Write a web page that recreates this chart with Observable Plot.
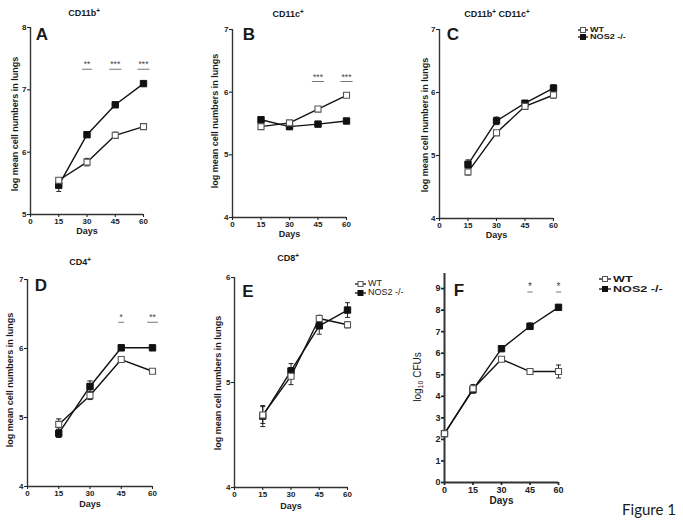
<!DOCTYPE html>
<html><head><meta charset="utf-8">
<script src="https://cdn.jsdelivr.net/npm/d3@7"></script>
<script src="https://cdn.jsdelivr.net/npm/@observablehq/plot@0.6"></script>
<style>
body{margin:0;background:#fff;}
#fig{position:relative;width:683px;height:525px;overflow:hidden;font-family:"Liberation Sans",Arial,sans-serif;color:#1a1a1a;}
#fig svg{position:absolute;left:0;top:0;}
.t{position:absolute;font-weight:bold;white-space:nowrap;transform:translate(-50%,-50%);line-height:1;}
.t sup{font-size:70%;vertical-align:0.45em;line-height:0;}
.t sub{font-size:70%;vertical-align:-0.25em;line-height:0;}
.lg{position:absolute;white-space:nowrap;line-height:1;}
.lg div{display:flex;align-items:center;}
.lg svg{position:static !important;}
.lg span{display:inline-block;transform-origin:left center;}
</style></head><body><div id="fig"></div>
<script>
// ---------- data ----------
const days = [15, 30, 45, 60];
const daysF = [0, 15, 30, 45, 60];
const xTicks = [0, 15, 30, 45, 60];
const seriesNames = ["WT", "NOS2 -/-"];

// A: CD11b+
const cd11b_wt = [5.55, 5.84, 6.27, 6.41];
const cd11b_wt_err = [0.04, 0.06, 0.05, 0.03];
const cd11b_nos2 = [5.47, 6.28, 6.76, 7.10];
const cd11b_nos2_err = [0.10, 0.03, 0.03, 0.02];
const cd11b_yTicks = [5, 6, 7, 8];
const cd11b_sigDays = [30, 45, 60];
const cd11b_sigLabels = ["**", "***", "***"];

// B: CD11c+
const cd11c_wt = [5.45, 5.51, 5.73, 5.95];
const cd11c_wt_err = [0.02, 0.02, 0.02, 0.02];
const cd11c_nos2 = [5.56, 5.45, 5.49, 5.54];
const cd11c_nos2_err = [0.03, 0.02, 0.02, 0.03];
const cd11c_yTicks = [4, 5, 6, 7];
const cd11c_sigDays = [45, 60];
const cd11c_sigLabels = ["***", "***"];

// C: CD11b+ CD11c+
const dc_wt = [4.74, 5.36, 5.78, 5.96];
const dc_wt_err = [0.05, 0.03, 0.03, 0.05];
const dc_nos2 = [4.86, 5.55, 5.83, 6.07];
const dc_nos2_err = [0.07, 0.06, 0.03, 0.05];
const dc_yTicks = [4, 5, 6, 7];

// D: CD4+
const cd4_wt = [4.90, 5.32, 5.84, 5.67];
const cd4_wt_err = [0.08, 0.06, 0.03, 0.02];
const cd4_nos2 = [4.77, 5.45, 6.01, 6.01];
const cd4_nos2_err = [0.06, 0.08, 0.04, 0.03];
const cd4_yTicks = [4, 5, 6, 7];
const cd4_sigDays = [45, 60];
const cd4_sigLabels = ["*", "**"];

// E: CD8+
const cd8_wt = [4.69, 5.06, 5.61, 5.55];
const cd8_wt_err = [0.08, 0.08, 0.03, 0.03];
const cd8_nos2 = [4.68, 5.11, 5.54, 5.69];
const cd8_nos2_err = [0.10, 0.07, 0.08, 0.07];
const cd8_yTicks = [4, 5, 6];

// F: log10 CFUs
const cfu_wt = [2.27, 4.35, 5.72, 5.15, 5.15];
const cfu_wt_err = [0.05, 0.2, 0.05, 0.05, 0.3];
const cfu_nos2 = [2.27, 4.31, 6.21, 7.25, 8.13];
const cfu_nos2_err = [0.05, 0.15, 0.05, 0.15, 0.1];
const cfu_yTicks = [0, 1, 2, 3, 4, 5, 6, 7, 8, 9];
const cfu_sigDays = [45, 60];
const cfu_sigLabels = ["*", "*"];

// ---------- panels ----------
const W = 683, H = 525;
const FONT = '"Liberation Sans", Arial, sans-serif';
const panels = [
  {days, wt: cd11b_wt, wtErr: cd11b_wt_err, nos: cd11b_nos2, nosErr: cd11b_nos2_err, yDomain: [5, 8], yTicks: cd11b_yTicks,
   sigDays: cd11b_sigDays, sigLabels: cd11b_sigLabels, sigY: 7.33, frame: {l: 30, r: 143, t: 27, b: 214}, daysDy: 19},
  {days, wt: cd11c_wt, wtErr: cd11c_wt_err, nos: cd11c_nos2, nosErr: cd11c_nos2_err, yDomain: [4, 7], yTicks: cd11c_yTicks,
   sigDays: cd11c_sigDays, sigLabels: cd11c_sigLabels, sigY: 6.17, frame: {l: 232, r: 346, t: 29, b: 217}, daysDy: 19},
  {days, wt: dc_wt, wtErr: dc_wt_err, nos: dc_nos2, nosErr: dc_nos2_err, yDomain: [4, 7], yTicks: dc_yTicks,
   sigDays: [], sigLabels: [], sigY: 0, frame: {l: 439, r: 553, t: 29, b: 218}, daysDy: 19},
  {days, wt: cd4_wt, wtErr: cd4_wt_err, nos: cd4_nos2, nosErr: cd4_nos2_err, yDomain: [4, 7], yTicks: cd4_yTicks,
   sigDays: cd4_sigDays, sigLabels: cd4_sigLabels, sigY: 6.38, frame: {l: 27, r: 152, t: 279, b: 486}, daysDy: 20},
  {days, wt: cd8_wt, wtErr: cd8_wt_err, nos: cd8_nos2, nosErr: cd8_nos2_err, yDomain: [4, 6], yTicks: cd8_yTicks,
   sigDays: [], sigLabels: [], sigY: 0, frame: {l: 234, r: 347, t: 277, b: 487}, daysDy: 21},
  {days: daysF, wt: cfu_wt, wtErr: cfu_wt_err, nos: cfu_nos2, nosErr: cfu_nos2_err, yDomain: [0, 9.7], yTicks: cfu_yTicks,
   sigDays: cfu_sigDays, sigLabels: cfu_sigLabels, sigY: 8.84, frame: {l: 444, r: 558, t: 273, b: 482}, daysDy: 21,
   axisW: 2, tickFont: 9, daysFont: 10, starFont: 10}
];

const fig = document.getElementById("fig");
const hw = {1: 1.4, 2: 2.6, 3: 3.2};

for (const p of panels) {
  const rowsWT = p.days.map((d, i) => ({day: d, v: p.wt[i], e: p.wtErr[i], g: seriesNames[0]}));
  const rowsNOS = p.days.map((d, i) => ({day: d, v: p.nos[i], e: p.nosErr[i], g: seriesNames[1]}));
  const rows = rowsWT.concat(rowsNOS);
  const sig = p.sigDays.map((d, i) => ({day: d, label: p.sigLabels[i]}));
  const f = p.frame;
  const cap = 1.3;
  const aw = p.axisW || 1.4;
  const tf = p.tickFont || 8;
  const marks = [
    Plot.ruleX([0], {stroke: "#333", strokeWidth: aw}),
    Plot.ruleY([p.yDomain[0]], {stroke: "#333", strokeWidth: aw}),
    Plot.axisX({ticks: xTicks, tickSize: 3, tickPadding: 1, label: null, fontSize: tf, tickFormat: d => String(d), strokeWidth: aw - 0.3}),
    Plot.axisY({ticks: p.yTicks, tickSize: 3, tickPadding: 1, label: null, fontSize: tf, tickFormat: d => String(d), strokeWidth: aw - 0.3}),
    Plot.line(rowsWT, {x: "day", y: "v", stroke: "#111", strokeWidth: 1.4}),
    Plot.line(rowsNOS, {x: "day", y: "v", stroke: "#111", strokeWidth: 1.4}),
    Plot.ruleX(rows, {x: "day", y1: d => d.v - d.e, y2: d => d.v + d.e, stroke: "#222", strokeWidth: 1}),
    Plot.link(rows, {x1: d => d.day - cap, x2: d => d.day + cap, y1: d => d.v + d.e, y2: d => d.v + d.e, stroke: "#222", strokeWidth: 1}),
    Plot.link(rows, {x1: d => d.day - cap, x2: d => d.day + cap, y1: d => d.v - d.e, y2: d => d.v - d.e, stroke: "#222", strokeWidth: 1}),
    Plot.dot(rowsNOS, {x: "day", y: "v", symbol: "square", r: 3.6, fill: "#111", stroke: "#111", strokeWidth: 1}),
    Plot.dot(rowsWT, {x: "day", y: "v", symbol: "square", r: 3.4, fill: "#fff", stroke: "#555", strokeWidth: 1.1}),
    Plot.link(sig, {x1: d => d.day - hw[d.label.length], x2: d => d.day + hw[d.label.length], y1: () => p.sigY, y2: () => p.sigY, stroke: "#777", strokeWidth: 1}),
    Plot.text(sig, {x: "day", y: () => p.sigY, text: "label", dy: -2, lineAnchor: "bottom", fontSize: p.starFont || 8.5, fontWeight: "normal", fill: "#444"}),
    Plot.text(["Days"], {frameAnchor: "bottom", text: d => d, dy: p.daysDy, fontSize: p.daysFont || 9, fontWeight: "bold"})
  ];
  const svg = Plot.plot({
    width: W, height: H,
    marginLeft: f.l, marginRight: W - f.r, marginTop: f.t, marginBottom: H - f.b,
    x: {domain: [0, 60]},
    y: {domain: p.yDomain},
    style: {background: "none", fontFamily: FONT, fontWeight: "bold", fontSize: "8px", color: "#222", overflow: "visible"},
    marks
  });
  fig.appendChild(svg);
}

// ---------- text annotations ----------
function addText(html, x, y, size, extra) {
  const d = document.createElement("div");
  d.className = "t";
  d.style.left = x + "px";
  d.style.top = y + "px";
  d.style.fontSize = size + "px";
  if (extra) Object.assign(d.style, extra);
  d.innerHTML = html;
  fig.appendChild(d);
}
const titles = [
  ["CD11b<sup>+</sup>", 84, 13],
  ["CD11c<sup>+</sup>", 288, 14],
  ["CD11b<sup>+</sup> CD11c<sup>+</sup>", 497, 14],
  ["CD4<sup>+</sup>", 80, 262],
  ["CD8<sup>+</sup>", 288, 258]
];
for (const [t, x, y] of titles) addText(t, x, y, 9);
const letters = [["A", 42, 34], ["B", 249, 34], ["C", 453, 34], ["D", 41, 285], ["E", 248, 291], ["F", 459, 290]];
for (const [t, x, y] of letters) addText(t, x, y, 17);

const yLabel = "log mean cell numbers in lungs";
const yLabelPos = [[15, 124], [215, 121], [425, 125], [10, 380], [218, 383]];
const rot = {transform: "translate(-50%,-50%) rotate(-90deg)"};
for (const [x, y] of yLabelPos) addText(yLabel, x, y, 9, rot);
addText("log<sub>10</sub> CFUs", 418, 377, 10, {fontWeight: "normal", transform: "translate(-50%,-50%) rotate(-90deg)"});
addText("Figure 1", 649, 509, 15, {fontWeight: "normal", fontFamily: "Lato, 'Open Sans', sans-serif"});

// ---------- legends ----------
function legend(x, y, size, gap, weight, lineW, stretch) {
  const box = document.createElement("div");
  box.className = "lg";
  box.style.left = x + "px";
  box.style.top = y + "px";
  box.style.fontSize = size + "px";
  box.style.fontWeight = weight;
  seriesNames.forEach((name, i) => {
    const row = document.createElement("div");
    row.style.height = gap + "px";
    const s = d3.create("svg").attr("width", lineW + 1).attr("height", 8);
    s.append("line").attr("x1", 0).attr("x2", lineW).attr("y1", 4).attr("y2", 4).attr("stroke", "#111").attr("stroke-width", 1.3);
    s.append("rect").attr("x", lineW / 2 - 2.5).attr("y", 1.5).attr("width", 5).attr("height", 5)
      .attr("fill", i === 0 ? "#fff" : "#111").attr("stroke", i === 0 ? "#555" : "#111");
    row.appendChild(s.node());
    const sp = document.createElement("span");
    sp.textContent = name;
    sp.style.marginLeft = "1px";
    sp.style.transform = `scaleX(${stretch})`;
    row.appendChild(sp);
    box.appendChild(row);
  });
  fig.appendChild(box);
}
legend(578, 26, 7, 7, "bold", 10, 1.3);
legend(355, 279, 9, 9, "normal", 11, 1);
legend(599, 274, 9, 10, "bold", 12, 1.4);
</script>
</body></html>
